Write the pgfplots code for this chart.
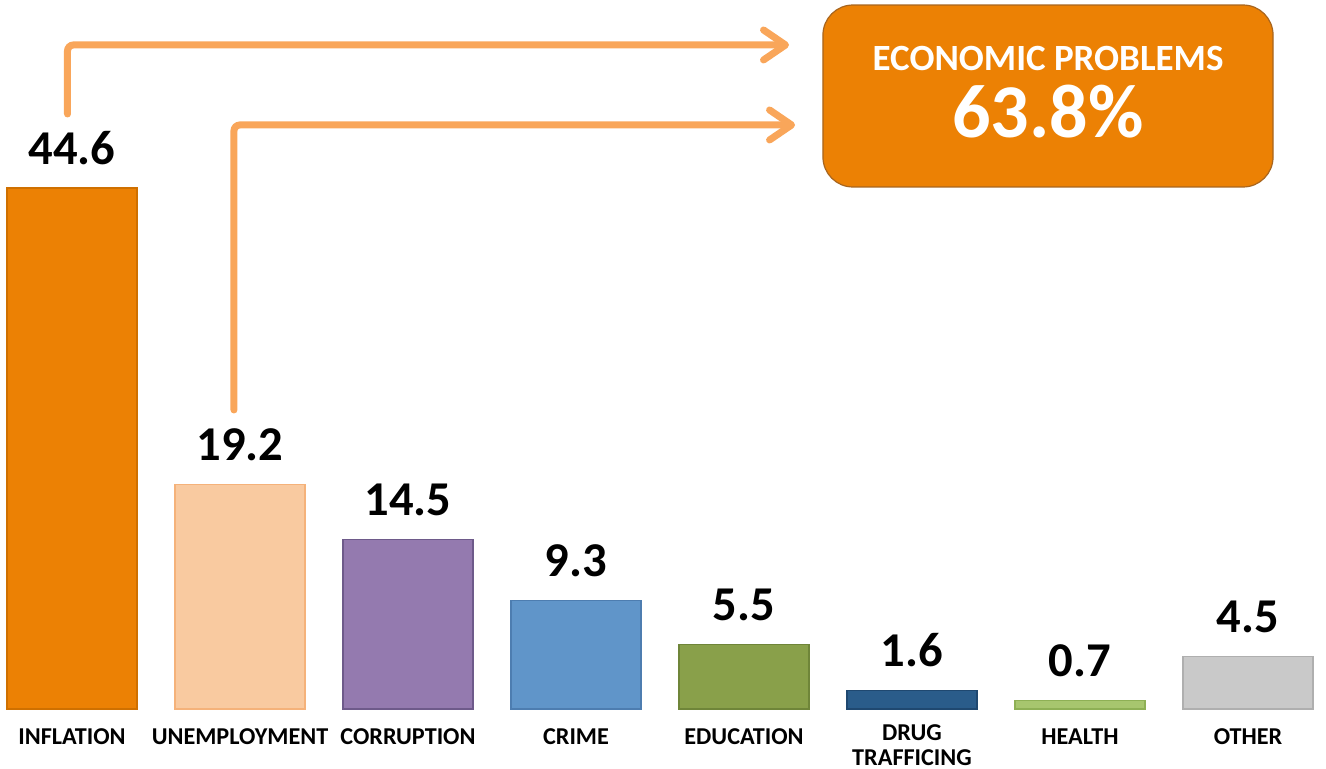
\documentclass[border=0pt]{standalone}
\usepackage{pgfplots}
\pgfplotsset{compat=1.18}
\usepackage{fontspec}
\setmainfont{Carlito}
\usetikzlibrary{arrows.meta}
\definecolor{cInf}{HTML}{EC8104}
\definecolor{cInfB}{HTML}{CF7000}
\definecolor{cUne}{HTML}{F9CAA0}
\definecolor{cUneB}{HTML}{F5B27A}
\definecolor{cCor}{HTML}{947AAF}
\definecolor{cCorB}{HTML}{6E5A8A}
\definecolor{cCri}{HTML}{6095C9}
\definecolor{cCriB}{HTML}{4D7DB0}
\definecolor{cEdu}{HTML}{89A04A}
\definecolor{cEduB}{HTML}{6F8539}
\definecolor{cDru}{HTML}{2A5C8A}
\definecolor{cDruB}{HTML}{1F4870}
\definecolor{cHea}{HTML}{A7C66E}
\definecolor{cHeaB}{HTML}{8EB055}
\definecolor{cOth}{HTML}{C9C9C9}
\definecolor{cOthB}{HTML}{AFAFAF}
\definecolor{cArr}{HTML}{F9A65A}
\definecolor{cBoxB}{HTML}{A8651E}
\begin{document}
\begin{tikzpicture}
\begin{axis}[
  width=663pt, height=384.5pt, scale only axis,
  xmin=-0.42857, xmax=7.4643,
  ymin=-5.137, ymax=60.70,
  clip=false,
  axis line style={draw=none},
  major tick length=0pt,
  ytick=\empty,
  xtick={0,1,2,3,4,6,7},
  xticklabels={INFLATION,UNEMPLOYMENT,CORRUPTION,CRIME,EDUCATION,HEALTH,OTHER},
  x tick label style={anchor=north, yshift=20.5pt, inner sep=0pt, align=center,
    font=\fontsize{12.1}{12.8}\selectfont\bfseries},
  extra x ticks={5},
  extra x tick labels={DRUG\\TRAFFICING},
  extra x tick style={x tick label style={yshift=2pt}},
  ybar, bar width=0.774, bar shift=0pt,
  point meta=y,
  nodes near coords,
  nodes near coords style={font=\fontsize{24.3}{26}\selectfont\bfseries, anchor=south,
    inner sep=0pt, yshift=11.5pt, text=black,
    /pgf/number format/.cd, fixed, precision=1, fixed zerofill, assume math mode=true},
]
\addplot[fill=cInf, draw=cInfB, line width=0.6pt] coordinates {(0,44.6)};
\addplot[fill=cUne, draw=cUneB, line width=0.6pt] coordinates {(1,19.2)};
\addplot[fill=cCor, draw=cCorB, line width=0.6pt] coordinates {(2,14.5)};
\addplot[fill=cCri, draw=cCriB, line width=0.6pt] coordinates {(3,9.3)};
\addplot[fill=cEdu, draw=cEduB, line width=0.6pt] coordinates {(4,5.5)};
\addplot[fill=cDru, draw=cDruB, line width=0.6pt] coordinates {(5,1.6)};
\addplot[fill=cHea, draw=cHeaB, line width=0.6pt] coordinates {(6,0.7)};
\addplot[fill=cOth, draw=cOthB, line width=0.6pt] coordinates {(7,4.5)};
% arrows
\draw[cArr, line width=3.5pt, line cap=round, rounded corners=3pt,
  -{Straight Barb[length=11pt,width=15pt,round]}]
  (axis cs:-0.0268,50.94) -- (axis cs:-0.0268,56.85) -- (axis cs:4.268,56.85);
\draw[cArr, line width=3.5pt, line cap=round, rounded corners=3pt,
  -{Straight Barb[length=11pt,width=15pt,round]}]
  (axis cs:0.964,25.6) -- (axis cs:0.964,50.0) -- (axis cs:4.304,50.0);
% box
\draw[fill=cInf, draw=cBoxB, line width=0.6pt, rounded corners=15pt]
  (axis cs:4.470,60.27) rectangle (axis cs:7.149,44.69);
\node[text=white, font=\fontsize{18.5}{20}\selectfont\bfseries] at (axis cs:5.810,55.65) {ECONOMIC PROBLEMS};
\node[text=white, font=\fontsize{38}{40}\selectfont\bfseries] at (axis cs:5.810,51.11) {63.8\%};
\end{axis}
\pgfresetboundingbox
\useasboundingbox (current axis.south west) rectangle (current axis.north east);
\end{tikzpicture}
\end{document}
